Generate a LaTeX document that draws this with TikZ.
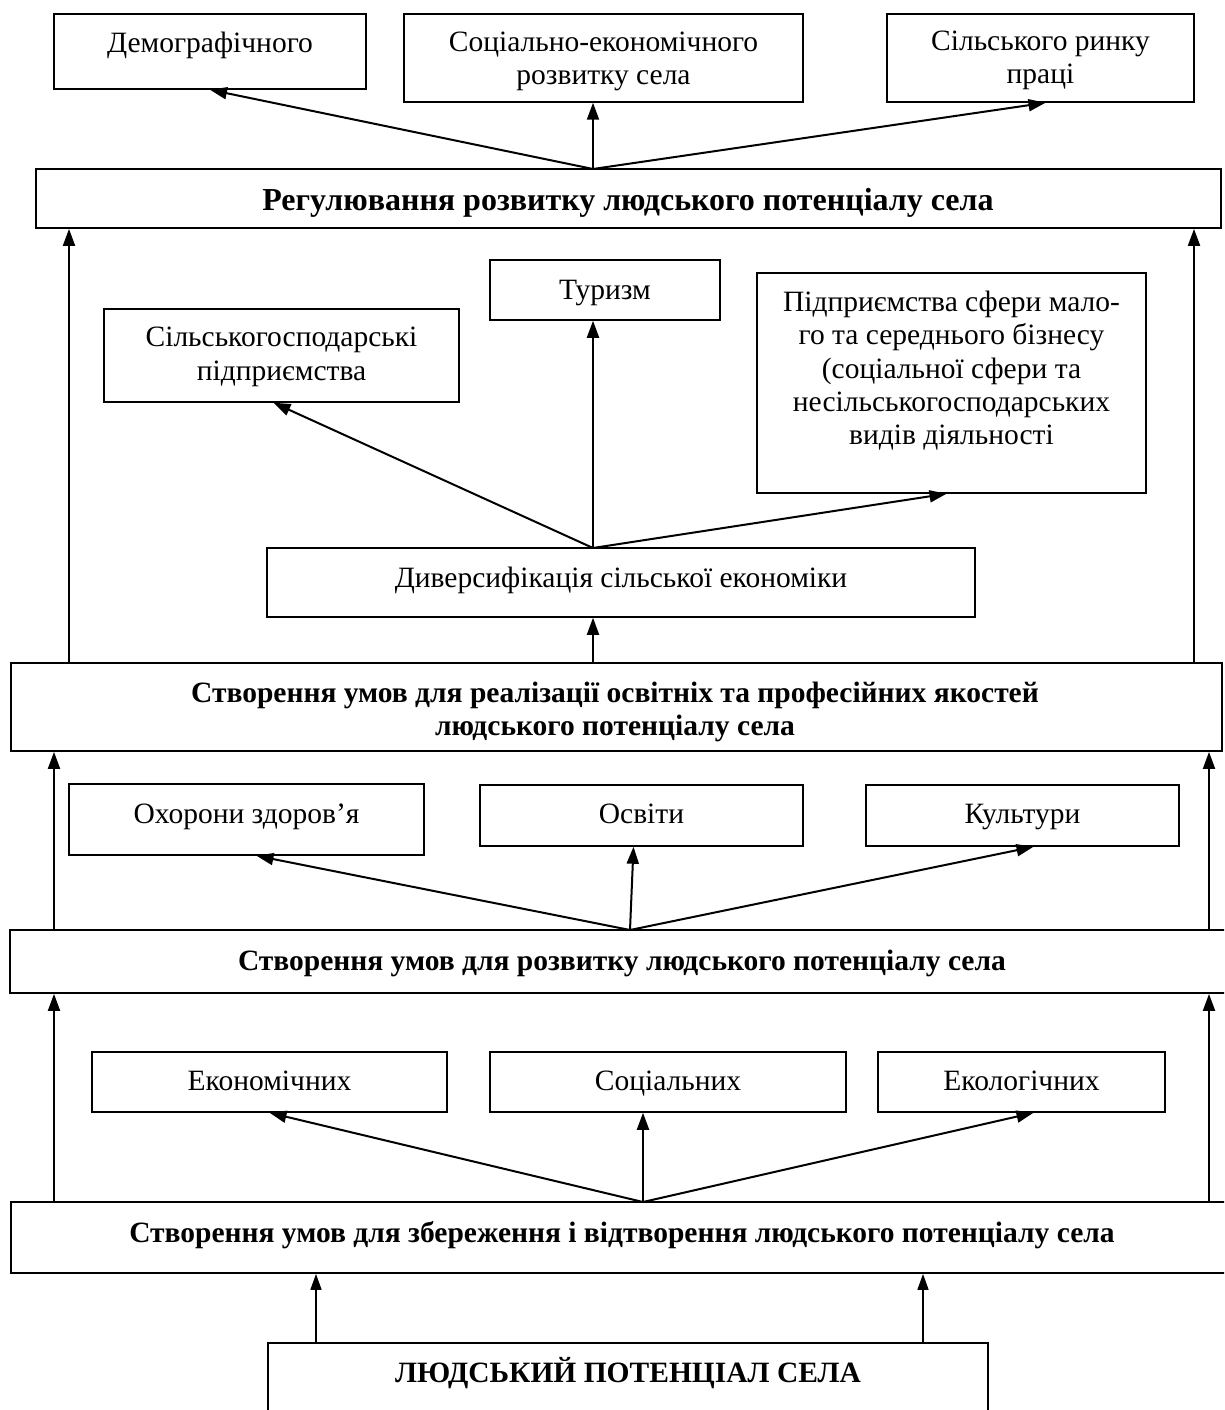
\documentclass[tikz,border=0pt]{standalone}
\usepackage{fontspec}
\setmainfont{Liberation Serif}
\usetikzlibrary{arrows.meta,calc}
\begin{document}
\begin{tikzpicture}[x=1pt,y=-1pt,
  box/.style={draw=black,line width=1.5pt,inner sep=0pt,fill=none},
  wbox/.style={draw=black,line width=1.8pt,inner sep=0pt},
  lbl/.style={inner sep=0pt,align=center,font=\fontsize{29.5pt}{33.25pt}\selectfont},
  blbl/.style={inner sep=0pt,align=center,font=\fontsize{29.5pt}{33.25pt}\selectfont\bfseries},
  arr/.style={line width=2pt,-{Triangle[length=17pt,width=12pt]}},
  tarr/.style={line width=1.6pt,-{Triangle[length=16pt,width=11pt]}}]
\useasboundingbox (0,0) rectangle (1224,1410);
\clip (0,0) rectangle (1224,1410);
% boxes
\node[box,minimum width=312pt,minimum height=75pt] (demo) at (210,51.5) {};
\node[box,minimum width=399pt,minimum height=88pt] (socek) at (603.5,58) {};
\node[box,minimum width=307pt,minimum height=88pt] (rynok) at (1040.5,58) {};
\node[wbox,minimum width=1185pt,minimum height=59pt] (reg) at (628.5,198.5) {};
\node[box,minimum width=230pt,minimum height=60pt] (tur) at (605,290) {};
\node[box,minimum width=355pt,minimum height=93pt] (silg) at (281.5,355.5) {};
\node[box,minimum width=389pt,minimum height=220pt] (pidpr) at (951.5,383) {};
\node[box,minimum width=708pt,minimum height=69pt] (dyv) at (621,582.5) {};
\node[wbox,minimum width=1211pt,minimum height=88pt] (real) at (616.5,707) {};
\node[box,minimum width=355pt,minimum height=71pt] (ohor) at (246.5,819.5) {};
\node[box,minimum width=323pt,minimum height=61pt] (osv) at (641.5,815.5) {};
\node[box,minimum width=313pt,minimum height=61pt] (kult) at (1022.5,815.5) {};
\node[wbox,minimum width=1220pt,minimum height=63pt] (rozv) at (620,961.5) {};
\node[box,minimum width=355pt,minimum height=60pt] (ekon) at (269.5,1082) {};
\node[box,minimum width=356pt,minimum height=60pt] (socn) at (668,1082) {};
\node[box,minimum width=287pt,minimum height=60pt] (ekol) at (1021.5,1082) {};
\node[wbox,minimum width=1219pt,minimum height=71pt] (zber) at (620.5,1237.5) {};
\node[wbox,minimum width=720pt,minimum height=87pt] (lp) at (628,1386.5) {};
% texts
\node[lbl,anchor=base] (demo-t) at (210,53) {Демографічного};
\node[lbl] (socek-t) at (603.5,61.75) {Соціально-економічного\\розвитку села};
\node[lbl] (rynok-t) at (1040.5,60.25) {Сільського ринку\\праці};
\node[blbl,anchor=base,font=\fontsize{32pt}{36pt}\selectfont\bfseries] (reg-t) at (628,210) {Регулювання розвитку людського потенціалу села};
\node[lbl,anchor=base] (tur-t) at (605,299) {Туризм};
\node[lbl] (silg-t) at (281.5,356.75) {Сільськогосподарські\\підприємства};
\node[lbl] (pidpr-t) at (951.5,370.75) {Підприємства сфери мало-\\го та середнього бізнесу\\(соціальної сфери та\\несільськогосподарських\\видів діяльності};
\node[lbl,anchor=base] (dyv-t) at (621,587) {Диверсифікація сільської економіки};
\node[blbl] (real-t) at (615,711.75) {Створення умов для реалізації освітніх та професійних якостей\\людського потенціалу села};
\node[lbl,anchor=base] (ohor-t) at (246.5,823) {Охорони здоров’я};
\node[lbl,anchor=base] (osv-t) at (641.5,823) {Освіти};
\node[lbl,anchor=base] (kult-t) at (1022.5,823) {Культури};
\node[blbl,anchor=base] (rozv-t) at (622,970) {Створення умов для розвитку людського потенціалу села};
\node[lbl,anchor=base] (ekon-t) at (269.5,1090) {Економічних};
\node[lbl,anchor=base] (socn-t) at (668,1090) {Соціальних};
\node[lbl,anchor=base] (ekol-t) at (1021.5,1090) {Екологічних};
\node[blbl,anchor=base] (zber-t) at (622,1242) {Створення умов для збереження і відтворення людського потенціалу села};
\node[blbl,anchor=base] (lp-t) at (628,1382) {ЛЮДСЬКИЙ ПОТЕНЦІАЛ СЕЛА};
% column coordinates
\coordinate (s1) at (593,169);
\coordinate (s2) at (593,548);
\coordinate (s3) at (630,930);
\coordinate (s4) at (643,1202);
\coordinate (LA) at (69,0);
\coordinate (RA) at (1194,0);
\coordinate (LB) at (54,0);
\coordinate (RB) at (1209,0);
\coordinate (BL) at (316,0);
\coordinate (BR) at (923,0);
% arrows top
\draw[arr] (s1) -- (demo.south);
\draw[arr] (s1) -- (s1 |- socek.south);
\draw[arr] (s1) -- ([xshift=5pt]rynok.south);
\draw[arr] (real.north -| LA) -- (reg.south -| LA);
\draw[arr] (real.north -| RA) -- (reg.south -| RA);
% middle
\draw[arr] (s2) -- ([xshift=-8pt]silg.south);
\draw[arr] (s2) -- (s2 |- tur.south);
\draw[arr] (s2) -- ([xshift=-5pt]pidpr.south);
\draw[arr] (real.north -| s2) -- (s2 |- dyv.south);
% lower
\draw[arr] (s3) -- ([xshift=10pt]ohor.south);
\draw[arr] (s3) -- ([xshift=-8pt]osv.south);
\draw[arr] (s3) -- ([xshift=11pt]kult.south);
\draw[arr] (rozv.north -| LB) -- (real.south -| LB);
\draw[arr] (rozv.north -| RB) -- (real.south -| RB);
% bottom
\draw[arr] (s4) -- (ekon.south);
\draw[arr] (s4) -- (s4 |- socn.south);
\draw[arr] (s4) -- ([xshift=12pt]ekol.south);
\draw[arr] (zber.north -| LB) -- (rozv.south -| LB);
\draw[arr] (zber.north -| RB) -- (rozv.south -| RB);
\draw[tarr] (lp.north -| BL) -- (zber.south -| BL);
\draw[tarr] (lp.north -| BR) -- (zber.south -| BR);
\end{tikzpicture}
\end{document}
